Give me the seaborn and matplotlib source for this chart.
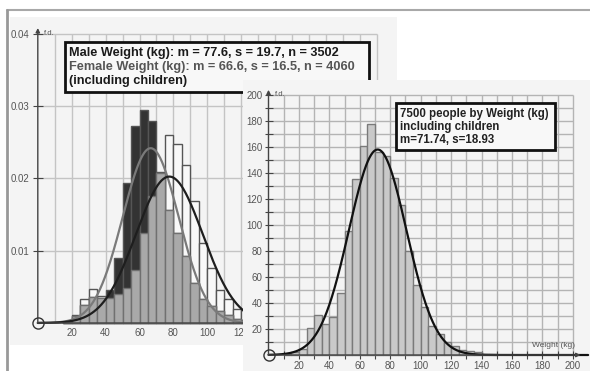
import numpy as np
import pandas as pd
import matplotlib
matplotlib.use("Agg")
import matplotlib.pyplot as plt
from matplotlib.patches import Rectangle
from matplotlib.lines import Line2D
from matplotlib.transforms import Affine2D
import seaborn as sns

sns.set_style("white")
plt.rcParams['font.family'] = ['Liberation Sans', 'DejaVu Sans']

# ---- data -------------------------------------------------------------
# left chart: frequency density per 5 kg class (15-20 ... 120-125)
left_edges = list(range(15, 130, 5))
male_fd = np.array([0.1, 1.0, 3.3, 4.7, 3.7, 3.4, 4.0, 4.9, 7.3, 12.4, 17.5,
                    20.9, 26.0, 24.8, 21.9, 16.9, 11.0, 7.6, 4.6, 3.3, 2.0, 1.8]) / 1000
female_fd = np.array([0.1, 1.1, 2.5, 3.6, 3.5, 4.5, 9.0, 19.3, 27.2, 29.4, 28.0,
                      20.7, 15.6, 12.4, 9.3, 5.5, 3.3, 2.4, 1.7, 1.1, 0.6, 0.4]) / 1000
male_m, male_s, male_n = 77.6, 19.7, 3502
female_m, female_s, female_n = 66.6, 16.5, 4060

# right chart: all 7500 people, f.d. per 5 kg class (10-15 ... 145-150)
right_edges = list(range(10, 155, 5))
all_fd = np.array([1, 2, 5, 21, 31, 24, 29, 48, 95, 135, 161, 178, 156, 153,
                   136, 115, 80, 54, 37, 22, 16, 10, 7, 4, 3, 2, 1, 1])
all_m, all_s, all_n = 71.74, 18.93, 7500

left_yticks = [0.01, 0.02, 0.03, 0.04]
left_xticks = list(range(20, 201, 20))
right_ticks = list(range(20, 201, 20))


def normal(x, m, s):
    return np.exp(-0.5 * ((x - m) / s) ** 2) / (s * np.sqrt(2 * np.pi))


left_df = pd.DataFrame({'kg': np.array(left_edges[:-1]) + 2.5, 'male': male_fd,
                        'female': female_fd,
                        'both': np.minimum(male_fd, female_fd)})
right_df = pd.DataFrame({'kg': np.array(right_edges[:-1]) + 2.5, 'fd': all_fd})

# ---- figure -----------------------------------------------------------
W, H = 590, 371
fig = plt.figure(figsize=(W / 100, H / 100), dpi=100, facecolor='white')
px = Affine2D().scale(1 / W, -1 / H).translate(0, 1) + fig.transFigure


def make_axes(x0, y0, x1, y1, ox, oy, sx, sy, z):
    # axes covering pixel box, data origin at (ox, oy) px, sx/sy px per unit
    ax = fig.add_axes([x0 / W, 1 - y1 / H, (x1 - x0) / W, (y1 - y0) / H])
    ax.set_facecolor('#f4f4f4')
    ax.set_zorder(z)
    for sp in ax.spines.values():
        sp.set_visible(False)
    ax.spines['left'].set_position(('data', 0))
    ax.spines['bottom'].set_position(('data', 0))
    lims = ((x0 - ox) / sx, (x1 - ox) / sx, (oy - y1) / sy, (oy - y0) / sy)
    return ax, lims


# window frame
fig.add_artist(Line2D([7, 590], [10, 10], transform=px, color='#a8a8a8', lw=1.5))
fig.add_artist(Line2D([7, 7], [10, 371], transform=px, color='#999999', lw=2))

arrow = dict(arrowstyle='-|>', color='#444444', lw=1, mutation_scale=6, shrinkA=0, shrinkB=0)
xs = np.linspace(0, 210, 600)

# ---- left chart: male / female -------------------------------------------
ax1, lim1 = make_axes(10, 17, 397, 345, 37.8, 323, 1.695, 7230, 1)
ax1.vlines(np.arange(10, 201, 10), 0, 0.04, colors='#c4c4c4', lw=1, zorder=0.5)
ax1.hlines(left_yticks, 0, 200, colors='#c4c4c4', lw=1, zorder=0.5)

for col, fill, edge in [('male', '#f8f8f8', '#555555'), ('female', '#333333', '#555555'),
                        ('both', '#a9a9a9', '#707070')]:
    sns.histplot(data=left_df, x='kg', weights=col, bins=left_edges, ax=ax1, color=fill,
                 edgecolor=edge, linewidth=1, alpha=1, zorder=2)
sns.lineplot(x=xs, y=normal(xs, female_m, female_s), ax=ax1, color='#7a7a7a', lw=1.6, zorder=3)
sns.lineplot(x=xs, y=normal(xs, male_m, male_s), ax=ax1, color='#1e1e1e', lw=1.6, zorder=3)

ax1.set_xlim(lim1[0], lim1[1])
ax1.set_ylim(lim1[2], lim1[3])
ax1.set_xlabel('')
ax1.set_ylabel('')
ax1.set_yticks(left_yticks, ['0.01', '0.02', '0.03', '0.04'])
ax1.set_xticks(left_xticks, [str(v) for v in left_xticks])
ax1.tick_params(axis='y', direction='inout', length=6.5, width=0.8, color='#444444',
                labelsize=7, labelcolor='#555555', pad=3, left=True)
ax1.tick_params(axis='x', direction='out', length=0, labelsize=7,
                labelcolor='#555555', pad=3.5, bottom=True)
ax1.annotate('', xy=(0, 0.0408), xytext=(0, 0), arrowprops=arrow, annotation_clip=False)
ax1.annotate('', xy=(206, 0), xytext=(0, 0), arrowprops=arrow, annotation_clip=False)
ax1.plot(0, 0, 'o', ms=8, mfc='none', mec='#333333', mew=1, clip_on=False, zorder=5)
ax1.text(3.5, 0.0401, 'f.d.', fontsize=5.5, color='#555555', va='center')

ax1.add_patch(Rectangle((65, 42), 304, 50, transform=px, facecolor='#f8f8f8',
                        edgecolor='#111111', lw=2, zorder=6))
lines_left = [
    (f'Male Weight (kg): m = {male_m}, s = {male_s}, n = {male_n}', '#1a1a1a'),
    (f'Female Weight (kg): m = {female_m}, s = {female_s}, n = {female_n}', '#555555'),
    ('(including children)', '#1a1a1a'),
]
for i, (txt, col) in enumerate(lines_left):
    ax1.text(69, 53 + 14 * i, txt, transform=px, fontsize=9.2, fontweight='bold',
             color=col, va='center', zorder=7)

# ---- right chart: all people ---------------------------------------------
ax2, lim2 = make_axes(243, 80, 590, 371, 268.5, 355, 1.522, 1.3, 2)
ax2.vlines(np.arange(10, 201, 10), 0, 200, colors='#b4b4b4', lw=1, zorder=0.5)
ax2.hlines(np.arange(10, 201, 10), 0, 200, colors='#b4b4b4', lw=1, zorder=0.5)
sns.histplot(data=right_df, x='kg', weights='fd', bins=right_edges, ax=ax2,
             color='#c9c9c9', edgecolor='#7a7a7a', linewidth=1, alpha=1, zorder=2)
sns.lineplot(x=xs, y=all_n * normal(xs, all_m, all_s), ax=ax2, color='#111111', lw=1.6, zorder=3)

ax2.set_xlim(lim2[0], lim2[1])
ax2.set_ylim(lim2[2], lim2[3])
ax2.set_xlabel('')
ax2.set_ylabel('')
ax2.set_yticks(right_ticks, [str(v) for v in right_ticks])
ax2.set_yticks(range(10, 200, 20), minor=True)
ax2.set_xticks(right_ticks, [str(v) for v in right_ticks])
ax2.set_xticks(range(10, 200, 20), minor=True)
ax2.tick_params(axis='both', which='both', direction='inout', length=6, width=0.8,
                color='#444444', labelsize=7, labelcolor='#555555', pad=1.5,
                left=True, bottom=True)
ax2.annotate('', xy=(0, 204), xytext=(0, 0), arrowprops=arrow, annotation_clip=False)
ax2.annotate('', xy=(205, 0), xytext=(0, 0), arrowprops=arrow, annotation_clip=False)
ax2.plot(0, 0, 'o', ms=8, mfc='none', mec='#333333', mew=1, clip_on=False, zorder=5)
ax2.text(4, 200, 'f.d.', fontsize=5.5, color='#555555', va='center')
ax2.text(201.5, 7, 'Weight (kg)', fontsize=6, color='#555555', ha='right', va='center')

ax2.add_patch(Rectangle((396, 103), 159, 47, transform=px, facecolor='#f8f8f8',
                        edgecolor='#111111', lw=2, zorder=6))
lines_right = ['7500 people by Weight (kg)', 'including children', f'm={all_m}, s={all_s}']
for i, txt in enumerate(lines_right):
    ax2.text(400, 114.5 + 12.8 * i, txt, transform=px, fontsize=8.3, fontweight='bold',
             color='#222222', va='center', zorder=7)

fig.savefig('out.png', dpi=100)
